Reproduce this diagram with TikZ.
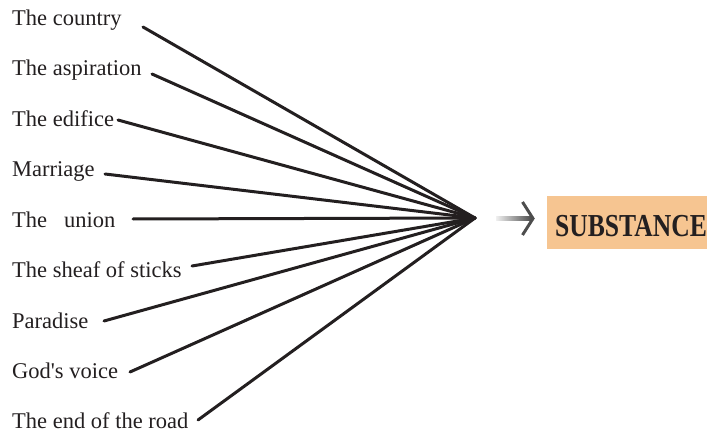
\documentclass[tikz,border=0pt]{standalone}
\usepackage{fontspec}
\setmainfont{Liberation Serif}
\newfontfamily\itemfont{Liberation Serif}
\definecolor{inkdark}{HTML}{231F20}
\definecolor{peach}{HTML}{F6C591}
\definecolor{arrowgray}{HTML}{4D4D4D}
\tikzset{
  item/.style={anchor=base west, inner sep=0pt, text=inkdark,
    font=\itemfont\fontsize{22.5}{26}\selectfont},
  spoke/.style={draw=inkdark, line width=3pt, line cap=round},
  substbox/.style={fill=peach, anchor=north west, inner xsep=8pt, inner ysep=0pt,
    minimum width=170pt, text width=154pt, align=left,
    text height=40.7pt, text depth=12.3pt, text=inkdark,
    font=\fontsize{32}{32}\selectfont\bfseries},
  shaft/.style={left color=gray!12, right color=arrowgray},
  arrowhead/.style={draw=arrowgray, line width=3pt}
}
\begin{document}
\begin{tikzpicture}[x=1pt, y=-1pt]
  \useasboundingbox (0,0) rectangle (707,433);
  % labels on the left
  \node[item] (country)    at (12,26)  {The country};
  \node[item] (aspiration) at (12,76)  {The aspiration};
  \node[item] (edifice)    at (12,127) {The edifice};
  \node[item] (marriage)   at (12,177) {Marriage};
  \node[item] (union)      at (12,227) {The\ \ \ union};
  \node[item] (sheaf)      at (12,277) {The sheaf of sticks};
  \node[item] (paradise)   at (12,328) {Paradise};
  \node[item] (godsvoice)  at (12,378) {God's voice};
  \node[item] (roadend)    at (12,428) {The end of the road};
  % where the spokes leave the labels
  \coordinate (country-out)    at (143,27);
  \coordinate (aspiration-out) at (152,74);
  \coordinate (edifice-out)    at (118,120);
  \coordinate (marriage-out)   at (105,174);
  \coordinate (union-out)      at (133,219);
  \coordinate (sheaf-out)      at (192,266);
  \coordinate (paradise-out)   at (104,321);
  \coordinate (godsvoice-out)  at (130,372);
  \coordinate (roadend-out)    at (198,420);
  \coordinate (hub) at (475,218);
  \begin{scope}[spoke]
    \draw (country-out) -- (hub);
    \draw (aspiration-out) -- (hub);
    \draw (edifice-out) -- (hub);
    \draw (marriage-out) -- (hub);
    \draw (union-out) -- (hub);
    \draw (sheaf-out) -- (hub);
    \draw (paradise-out) -- (hub);
    \draw (godsvoice-out) -- (hub);
    \draw (roadend-out) -- (hub);
  \end{scope}
  % result box and arrow
  \node[substbox] (subst) at (547,196) {\scalebox{0.8}[1]{SUBSTANCE}};
  \coordinate (arrowfrom) at (496,218.5);
  \coordinate (arrowto) at (533,218.5);
  \shade[shaft] ([yshift=2pt]arrowfrom) rectangle ([yshift=-2pt,xshift=-1.5pt]arrowto);
  \draw[arrowhead] ([xshift=-10.5pt,yshift=16.5pt]arrowto) -- (arrowto)
    -- ([xshift=-10.5pt,yshift=-16.5pt]arrowto);
\end{tikzpicture}
\end{document}
